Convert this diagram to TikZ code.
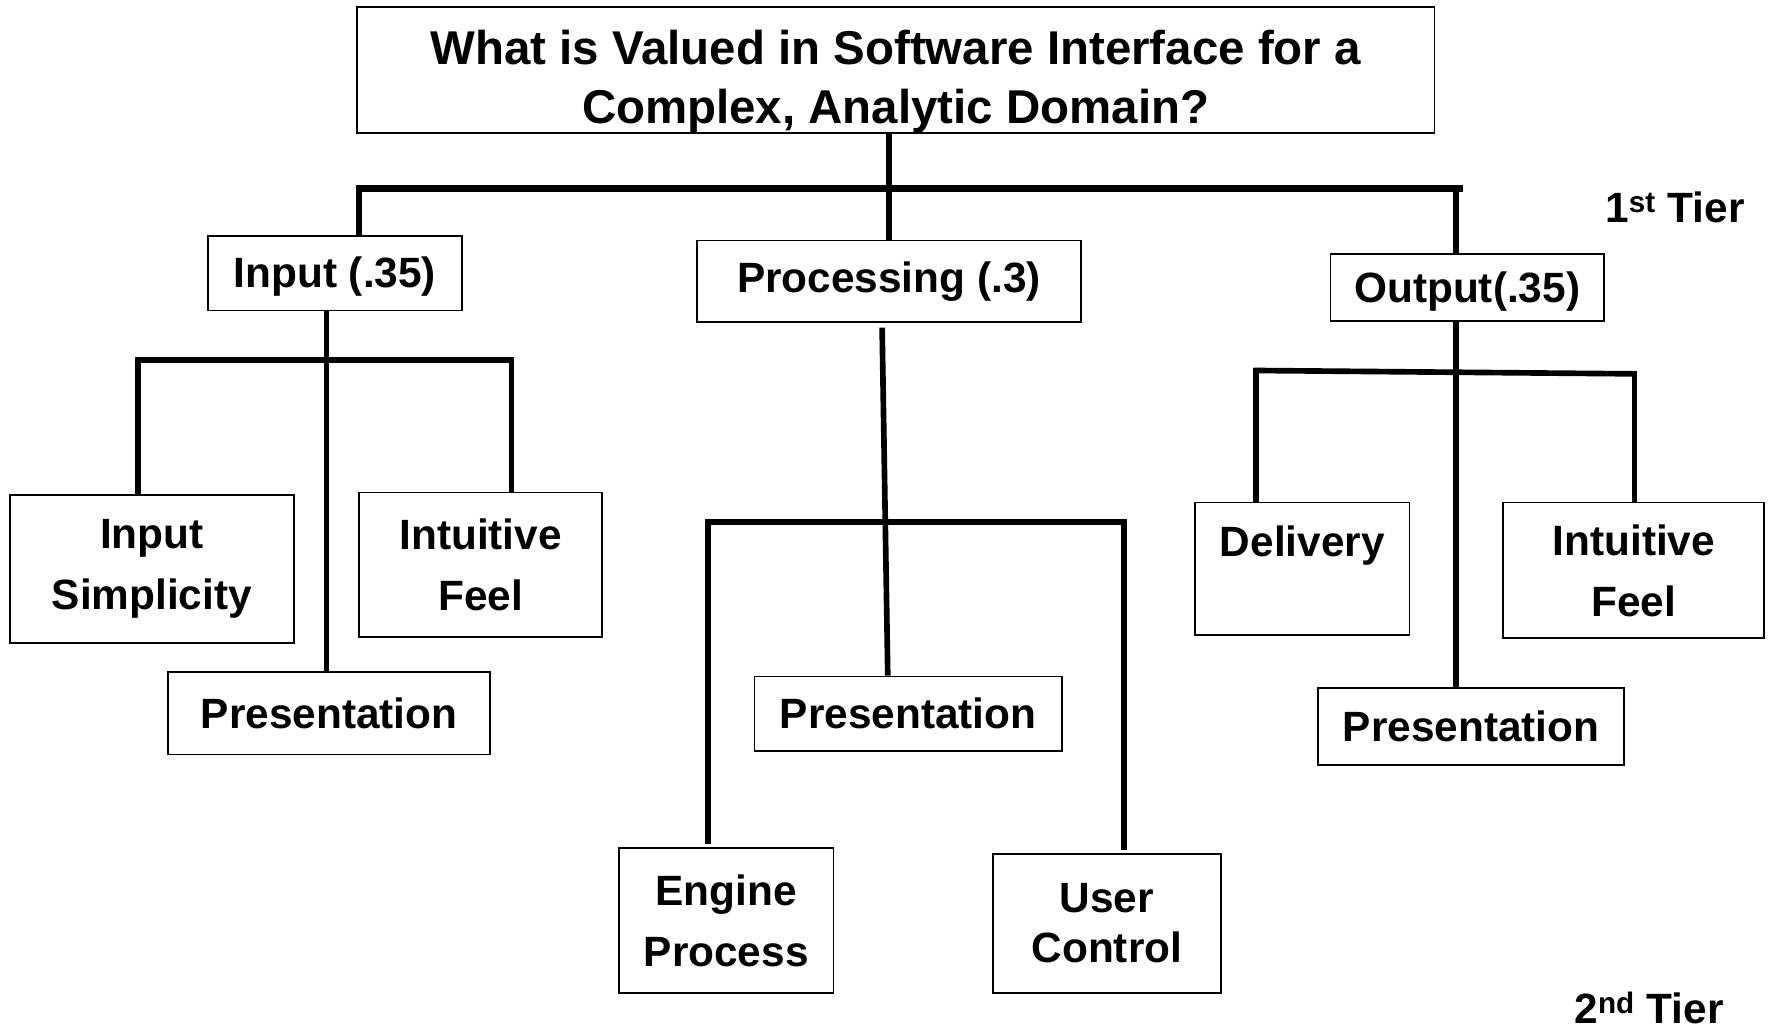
\documentclass[tikz,border=0pt]{standalone}
\usepackage{fontspec}
\setmainfont{Liberation Sans}
\newcommand\labfont{\fontsize{37.5}{54}\selectfont\bfseries}
\newcommand\titlefont{\fontsize{42}{52}\selectfont\bfseries}
\tikzset{
  box/.style={draw, line width=1.5pt, inner sep=0pt, align=center, font=\labfont},
  conn/.style={line width=5pt},
  bar/.style={line width=6pt},
}
\begin{document}
\begin{tikzpicture}[x=1pt,y=-1pt]
\useasboundingbox (0,0) rectangle (1568,913);
% boxes
\node[box, font=\titlefont, minimum width=954pt, minimum height=112pt] (title) at (793,62) {\rule{0pt}{51pt}What is Valued in Software Interface for a\\Complex, Analytic Domain?};
\node[box, minimum width=225pt, minimum height=66pt] (input) at (296.5,242) {\rule{0pt}{33pt}Input (.35)};
\node[box, minimum width=340pt, minimum height=72pt] (proc) at (787,249) {Processing (.3)};
\node[box, minimum width=242pt, minimum height=59pt] (output) at (1299,254.5) {\rule{0pt}{35pt}Output(.35)};
\node[box, minimum width=251pt, minimum height=131pt] (insimp) at (134.5,503.5) {Input\\Simplicity};
\node[box, minimum width=215pt, minimum height=128pt] (ifeelA) at (425.5,500) {Intuitive\\Feel};
\node[box, minimum width=285pt, minimum height=73pt] (presA) at (291.5,631.5) {Presentation};
\node[box, minimum width=272pt, minimum height=66pt] (presB) at (804,632) {Presentation};
\node[box, minimum width=190pt, minimum height=128pt] (engine) at (643,815) {Engine\\Process};
\node[box, minimum width=202pt, minimum height=123pt, font=\fontsize{37.5}{44}\selectfont\bfseries] (user) at (980,817.5) {User\\Control};
\node[box, minimum width=190pt, minimum height=117pt] (deliv) at (1153,503.5) {Delivery\rule[-49pt]{0pt}{0pt}};
\node[box, minimum width=231pt, minimum height=120pt] (ifeelB) at (1446.5,505) {Intuitive\\Feel};
\node[box, minimum width=271pt, minimum height=68pt] (presC) at (1302.5,643) {Presentation};
% tier labels
\node[font=\labfont, anchor=base, inner sep=0pt] (tier1) at (1483,197) {1\textsuperscript{st} Tier};
\node[font=\labfont, anchor=base, inner sep=0pt] (tier2) at (1460,906) {2\textsuperscript{nd} Tier};
% first tier connectors
\coordinate (b1L) at (316,167);
\coordinate (b1R) at (1295,167);
\draw[bar] (b1L) -- (b1R);
\draw[conn] (proc.north |- title.south) -- (proc.north);
\draw[conn] (318,164) coordinate (iTop) -- (iTop |- input.north);
\draw[conn] (1289,164) coordinate (oTop) -- (oTop |- output.north);
% input subtree
\coordinate (iv) at (289,0);
\draw[conn] (iv |- input.south) -- (iv |- presA.north);
\draw[conn] (121,319) -- (455,319);
\draw[conn] (122,316.5) coordinate (isL) -- (isL |- insimp.north);
\draw[conn] (453,316.5) coordinate (ifL) -- (ifL |- ifeelA.north);
% processing subtree
\coordinate (pvTop) at (781,290);
\draw[conn] (pvTop) -- (786,0 |- presB.north);
\draw[conn] (625,462) -- (997,462);
\draw[conn] (627,459.5) coordinate (enL) -- (enL |- 0,747);
\draw[conn] (995,459.5) coordinate (ucL) -- (ucL |- 0,753);
% output subtree
\coordinate (ov) at (1289,0);
\draw[conn] (ov |- output.south) -- (ov |- presC.north);
\draw[conn] (1110,328) -- (1448,331);
\draw[conn] (1112,325.5) coordinate (dL) -- (dL |- deliv.north);
\draw[conn] (1447,328.5) coordinate (fL) -- (fL |- ifeelB.north);
\end{tikzpicture}
\end{document}
